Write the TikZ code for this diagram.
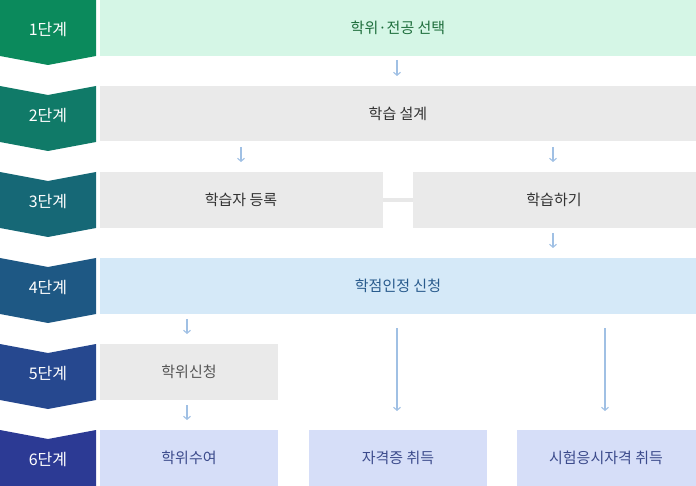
\documentclass[tikz,border=0pt]{standalone}
\usepackage{fontspec}
\setmainfont{Noto Sans CJK KR}
\usetikzlibrary{arrows.meta}
\begin{document}
\begin{tikzpicture}[x=1pt,y=-1pt,
  box/.style={draw=none,inner sep=0pt,font=\fontsize{15}{15}\selectfont},
  stg/.style={text=white,font=\fontsize{16}{16}\selectfont},
  arr/.style={draw={rgb,255:red,160;green,192;blue,228},line width=1.1pt,-{Straight Barb[length=3pt,width=7pt]}},
  link/.style={draw={rgb,255:red,232;green,232;blue,232},line width=4pt}]
\useasboundingbox (0,0) rectangle (696,486);
\definecolor{s1}{RGB}{11,138,92}\definecolor{s2}{RGB}{16,122,104}\definecolor{s3}{RGB}{22,104,118}
\definecolor{s4}{RGB}{30,88,132}\definecolor{s5}{RGB}{38,72,143}\definecolor{s6}{RGB}{44,58,148}
\definecolor{gbox}{RGB}{234,234,234}\definecolor{grn}{RGB}{213,246,230}\definecolor{lblue}{RGB}{213,233,248}\definecolor{pblue}{RGB}{214,222,248}
% chevrons
\fill[s1] (0,0)--(96,0)--(96,56)--(48,65)--(0,56)--cycle;
\foreach \c/\t in {s2/86,s3/172,s4/258,s5/344} \fill[\c] (0,\t)--(48,\t+9)--(96,\t)--(96,\t+56)--(48,\t+65)--(0,\t+56)--cycle;
\fill[s6] (0,430)--(48,439)--(96,430)--(96,486)--(0,486)--cycle;
\foreach \n/\y in {1/30,2/116,3/202,4/288,5/374,6/460} \node[stg] (st\n) at (48,\y) {{\n}단계};
% boxes
\fill[grn] (100,0) rectangle (696,56);
\node[box,text={rgb,255:red,30;green,110;blue,60}] (b1) at (398,28) {학위·전공 선택};
\fill[gbox] (100,86) rectangle (696,141);
\node[box,text={rgb,255:red,51;green,51;blue,51}] (b2) at (398,114) {학습 설계};
\fill[gbox] (100,172) rectangle (383,228);
\node[box,text={rgb,255:red,51;green,51;blue,51}] (b3a) at (241,200) {학습자 등록};
\fill[gbox] (413,172) rectangle (696,228);
\node[box,text={rgb,255:red,51;green,51;blue,51}] (b3b) at (554,200) {학습하기};
\draw[link] (383,200) -- (413,200);
\fill[lblue] (100,258) rectangle (696,314);
\node[box,text={rgb,255:red,40;green,90;blue,140}] (b4) at (398,286) {학점인정 신청};
\fill[gbox] (100,344) rectangle (278,400);
\node[box,text={rgb,255:red,85;green,85;blue,85}] (b5) at (189,372) {학위신청};
\fill[pblue] (100,430) rectangle (278,486);
\node[box,text={rgb,255:red,60;green,75;blue,140}] (b6a) at (189,458) {학위수여};
\fill[pblue] (309,430) rectangle (487,486);
\node[box,text={rgb,255:red,60;green,75;blue,140}] (b6b) at (398,458) {자격증 취득};
\fill[pblue] (517,430) rectangle (696,486);
\node[box,text={rgb,255:red,60;green,75;blue,140}] (b6c) at (606,458) {시험응시자격 취득};
% arrows
\coordinate (p1s) at (397,60);\coordinate (p1e) at (397,76);
\coordinate (p2s) at (241,147);\coordinate (p2e) at (241,162);
\coordinate (p3s) at (553,147);\coordinate (p3e) at (553,162);
\coordinate (p4s) at (553,233);\coordinate (p4e) at (553,248);
\coordinate (p5s) at (187,319);\coordinate (p5e) at (187,334);
\coordinate (p6s) at (187,405);\coordinate (p6e) at (187,420);
\coordinate (p7s) at (397,328);\coordinate (p7e) at (397,411);
\coordinate (p8s) at (605,328);\coordinate (p8e) at (605,411);
\foreach \n in {1,...,8} \draw[arr] (p\n s) -- (p\n e);
\end{tikzpicture}
\end{document}
